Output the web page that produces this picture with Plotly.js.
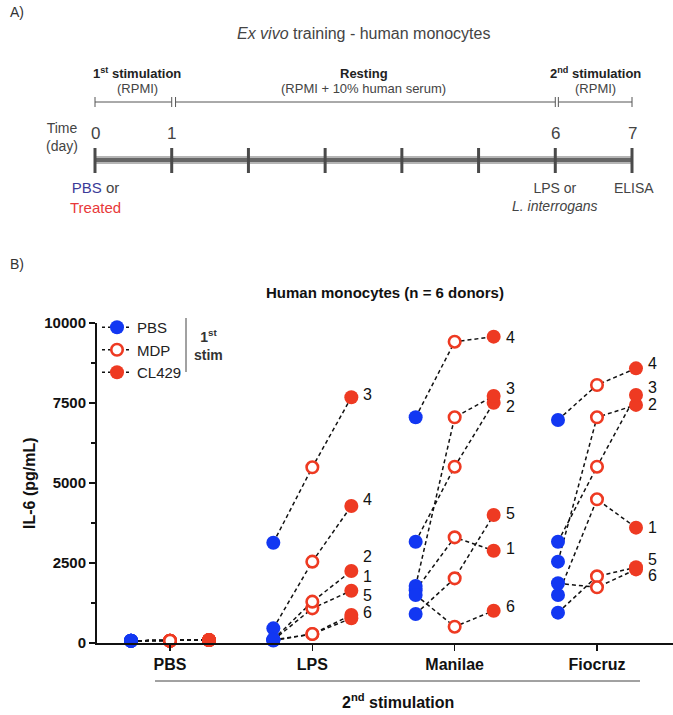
<!DOCTYPE html>
<html><head><meta charset="utf-8">
<script src="https://cdn.plot.ly/plotly-3.0.1.min.js"></script>
<style>html,body{margin:0;padding:0;background:#fff}#chart{width:673px;height:715px}</style>
</head><body><div id="chart"></div>
<script>
// ---------- DATA ----------
const groups = ['PBS', 'LPS', 'Manilae', 'Fiocruz'];      // 2nd stimulation
const series = ['PBS', 'MDP', 'CL429'];                   // 1st stimulation
const donors = [1, 2, 3, 4, 5, 6];
// IL-6 (pg/mL), donors 1..6
const PBS_PBS = [70, 70, 70, 70, 70, 70];
const PBS_MDP = [70, 70, 70, 70, 70, 70];
const PBS_CL  = [90, 90, 90, 90, 90, 90];
const LPS_PBS = [90, 110, 3135, 458, 80, 100];
const LPS_MDP = [1083, 1292, 5490, 2542, 281, 281];
const LPS_CL  = [1635, 2250, 7678, 4281, 875, 771];
const MAN_PBS = [1650, 3166, 1781, 7053, 906, 1500];
const MAN_MDP = [3302, 5510, 7053, 9416, 2021, 510];
const MAN_CL  = [2885, 7510, 7719, 9573, 4000, 1010];
const FIO_PBS = [1500, 2542, 3166, 6969, 948, 1865];
const FIO_MDP = [4490, 7053, 5510, 8063, 2083, 1740];
const FIO_CL  = [3604, 7440, 7750, 8583, 2365, 2300];
// donor-number label heights (pg/mL) next to the CL429 points
const LPS_LABEL_Y = [2073, 2690, 7780, 4500, 1500, 940];
const MAN_LABEL_Y = [2940, 7400, 7940, 9560, 4060, 1135];
const FIO_LABEL_Y = [3625, 7440, 8000, 8750, 2625, 2100];
const yTicks = [0, 2500, 5000, 7500, 10000];
// panel A timeline
const days = [0, 1, 2, 3, 4, 5, 6, 7];
const dayLabels = [0, 1, 6, 7];

// ---------- BUILD ----------
const groupData = [
  [PBS_PBS, PBS_MDP, PBS_CL],
  [LPS_PBS, LPS_MDP, LPS_CL],
  [MAN_PBS, MAN_MDP, MAN_CL],
  [FIO_PBS, FIO_MDP, FIO_CL]
];
const labelData = [null, LPS_LABEL_Y, MAN_LABEL_Y, FIO_LABEL_Y];
const OFF = 0.274;
const xpos = (g, s) => g + (s - 1) * OFF;

const BLUE = '#1237f2', RED = '#ee3a22';
const traces = [];
groupData.forEach((gd, g) => {
  donors.forEach((d, i) => {
    traces.push({
      x: [xpos(g, 0), xpos(g, 1), xpos(g, 2)],
      y: [gd[0][i], gd[1][i], gd[2][i]],
      mode: 'lines', xaxis: 'x', yaxis: 'y',
      line: {color: '#111', width: 1.5, dash: '4px,3px'},
      showlegend: false, hoverinfo: 'skip', cliponaxis: false
    });
  });
});
const markerStyles = [
  {color: BLUE, size: 14, line: {width: 0}},
  {color: '#ffffff', size: 11.5, line: {color: RED, width: 2.6}},
  {color: RED, size: 14, line: {width: 0}}
];
series.forEach((name, s) => {
  const xs = [], ys = [];
  groupData.forEach((gd, g) => {
    gd[s].forEach(v => { xs.push(xpos(g, s)); ys.push(v); xs.push(null); ys.push(null); });
  });
  traces.push({
    x: xs, y: ys, name: name, mode: 'lines+markers', xaxis: 'x', yaxis: 'y',
    connectgaps: false, cliponaxis: false,
    line: {color: '#111', width: 1.5, dash: '3px,3px'},
    marker: markerStyles[s], showlegend: true
  });
});

const FONT = 'Liberation Sans, Arial, Helvetica, sans-serif';
const annotations = [];
const shapes = [];
// donor labels
labelData.forEach((lab, g) => {
  if (!lab) return;
  donors.forEach((d, i) => {
    annotations.push({x: xpos(g, 2), y: lab[i], xref: 'x', yref: 'y', text: String(d),
      showarrow: false, xanchor: 'left', yanchor: 'middle', xshift: 10,
      font: {family: FONT, size: 16, color: '#111'}});
  });
});

const px = v => v / 673;          // horizontal pixel -> paper
const py = v => 1 - v / 715;      // vertical pixel -> paper

// Panel B texts
annotations.push({x: px(8), y: py(264), xref: 'paper', yref: 'paper', text: 'B)', showarrow: false,
  xanchor: 'left', yanchor: 'middle', font: {family: FONT, size: 14, color: '#333'}});
annotations.push({x: px(385), y: py(293), xref: 'paper', yref: 'paper', text: '<b>Human monocytes (n = 6 donors)</b>',
  showarrow: false, xanchor: 'center', yanchor: 'middle', font: {family: FONT, size: 15, color: '#111'}});
annotations.push({x: px(30), y: py(483), xref: 'paper', yref: 'paper', text: '<b>IL-6 (pg/mL)</b>', textangle: -90,
  showarrow: false, xanchor: 'center', yanchor: 'middle', font: {family: FONT, size: 16, color: '#111'}});
annotations.push({x: px(398), y: py(701), xref: 'paper', yref: 'paper', text: '<b>2<sup>nd</sup> stimulation</b>',
  showarrow: false, xanchor: 'center', yanchor: 'middle', font: {family: FONT, size: 16, color: '#111'}});
annotations.push({x: px(208), y: py(345), xref: 'paper', yref: 'paper', text: '<b>1<sup>st</sup><br>stim</b>',
  showarrow: false, xanchor: 'center', yanchor: 'middle', font: {family: FONT, size: 14, color: '#333'}});
shapes.push({type: 'line', xref: 'paper', yref: 'paper', x0: px(155), x1: px(640), y0: py(681), y1: py(681),
  line: {color: '#444', width: 1}});
shapes.push({type: 'line', xref: 'paper', yref: 'paper', x0: px(186), x1: px(186), y0: py(318), y1: py(372),
  line: {color: '#444', width: 1}});

// Panel A (x2 in days, y2 in pixels from top)
const A_COL = '#444';
annotations.push({x: px(8), y: 12, xref: 'paper', yref: 'y2', text: 'A)', showarrow: false,
  xanchor: 'left', yanchor: 'middle', font: {family: FONT, size: 14, color: '#333'}});
annotations.push({x: px(363), y: 33, xref: 'paper', yref: 'y2', text: '<i>Ex vivo</i> training - human monocytes',
  showarrow: false, xanchor: 'center', yanchor: 'middle', font: {family: FONT, size: 16, color: A_COL}});
const sectionTitles = [
  {x: 0.55, t: '<b>1<sup>st</sup> stimulation</b>', s: '(RPMI)'},
  {x: 3.5, t: '<b>Resting</b>', s: '(RPMI + 10% human serum)'},
  {x: 6.52, t: '<b>2<sup>nd</sup> stimulation</b>', s: '(RPMI)'}
];
sectionTitles.forEach(o => {
  annotations.push({x: o.x, y: 73, xref: 'x2', yref: 'y2', text: o.t, showarrow: false, xanchor: 'center',
    yanchor: 'middle', font: {family: FONT, size: 13, color: '#222'}});
  annotations.push({x: o.x, y: 88, xref: 'x2', yref: 'y2', text: o.s, showarrow: false, xanchor: 'center',
    yanchor: 'middle', font: {family: FONT, size: 13, color: A_COL}});
});
// bracket line with double marks at day 1 and day 6
const brY = 102;
[[0, 1], [1.05, 6], [6.04, 7]].forEach(seg => {
  shapes.push({type: 'line', xref: 'x2', yref: 'y2', x0: seg[0], x1: seg[1], y0: brY, y1: brY,
    line: {color: '#555', width: 1}});
});
[0, 1, 1.05, 6, 6.04, 7].forEach(d => {
  shapes.push({type: 'line', xref: 'x2', yref: 'y2', x0: d, x1: d, y0: brY - 5, y1: brY + 5,
    line: {color: '#555', width: 1}});
});
annotations.push({x: px(62), y: 137, xref: 'paper', yref: 'y2', text: 'Time<br>(day)', showarrow: false,
  xanchor: 'center', yanchor: 'middle', font: {family: FONT, size: 14, color: A_COL}});
dayLabels.forEach(d => {
  annotations.push({x: d, y: 133, xref: 'x2', yref: 'y2', text: String(d), showarrow: false,
    xanchor: 'center', yanchor: 'middle', font: {family: FONT, size: 17, color: A_COL}});
});
// timeline bar
shapes.push({type: 'line', xref: 'x2', yref: 'y2', x0: days[0], x1: days[days.length - 1], y0: 160, y1: 160,
  line: {color: '#b5b5b5', width: 8}});
shapes.push({type: 'line', xref: 'x2', yref: 'y2', x0: days[0], x1: days[days.length - 1], y0: 160, y1: 160,
  line: {color: '#666', width: 4}});
days.forEach(d => {
  shapes.push({type: 'line', xref: 'x2', yref: 'y2', x0: d, x1: d, y0: 148, y1: 173,
    line: {color: '#4a4a4a', width: 3}});
});
annotations.push({x: 0, y: 197, xref: 'x2', yref: 'y2', showarrow: false, xanchor: 'center', yanchor: 'middle',
  text: '<span style="color:#3b3b98">PBS</span> or<br><span style="color:#e8393a">Treated</span>',
  font: {family: FONT, size: 15, color: A_COL}});
annotations.push({x: 6, y: 197, xref: 'x2', yref: 'y2', showarrow: false, xanchor: 'center', yanchor: 'middle',
  text: 'LPS or<br><i>L. interrogans</i>', font: {family: FONT, size: 14, color: A_COL}});
annotations.push({x: 7.03, y: 188, xref: 'x2', yref: 'y2', showarrow: false, xanchor: 'center', yanchor: 'middle',
  text: 'ELISA', font: {family: FONT, size: 14, color: A_COL}});

const dayPx = 537 / 7;
const layout = {
  width: 673, height: 715,
  margin: {l: 0, r: 0, t: 0, b: 0},
  paper_bgcolor: '#fff', plot_bgcolor: 'rgba(0,0,0,0)',
  font: {family: FONT, color: '#111'},
  showlegend: true,
  legend: {x: px(97), y: py(311), xanchor: 'left', yanchor: 'top', bgcolor: 'rgba(0,0,0,0)',
    font: {family: FONT, size: 15, color: '#222'}, itemwidth: 30, tracegroupgap: 0},
  xaxis: {domain: [97 / 673, 1], range: [(97 - 170) / 142.33, (673 - 170) / 142.33], anchor: 'y',
    showgrid: false, zeroline: false, showline: true, linecolor: '#111', linewidth: 2,
    tickvals: [0, 1, 2, 3], ticktext: groups, ticks: 'outside', ticklen: 6, tickwidth: 1.5, tickcolor: '#111',
    tickfont: {family: FONT, size: 16, color: '#111', weight: 'bold'}, fixedrange: true},
  yaxis: {domain: [1 - 643 / 715, 1 - 323 / 715], range: [0, 10000], anchor: 'x',
    showgrid: false, zeroline: false, showline: true, linecolor: '#111', linewidth: 2,
    tickvals: yTicks, ticktext: yTicks.map(String), ticks: 'outside', ticklen: 6, tickwidth: 2, tickcolor: '#111',
    minor: {dtick: 1250, tick0: 0, ticks: 'outside', ticklen: 4, tickwidth: 1.5, tickcolor: '#111'},
    tickfont: {family: FONT, size: 15, color: '#111', weight: 'bold'}, fixedrange: true},
  xaxis2: {domain: [0, 1], range: [-95 / dayPx, (673 - 95) / dayPx], anchor: 'y2', visible: false},
  yaxis2: {domain: [1 - 230 / 715, 1], range: [230, 0], anchor: 'x2', visible: false},
  annotations: annotations,
  shapes: shapes
};
// dummy trace to activate x2/y2 subplot
traces.unshift({x: [0], y: [0], xaxis: 'x2', yaxis: 'y2', mode: 'markers', marker: {opacity: 0},
  showlegend: false, hoverinfo: 'skip'});
Plotly.newPlot('chart', traces, layout, {displayModeBar: false, staticPlot: true});
</script></body></html>
